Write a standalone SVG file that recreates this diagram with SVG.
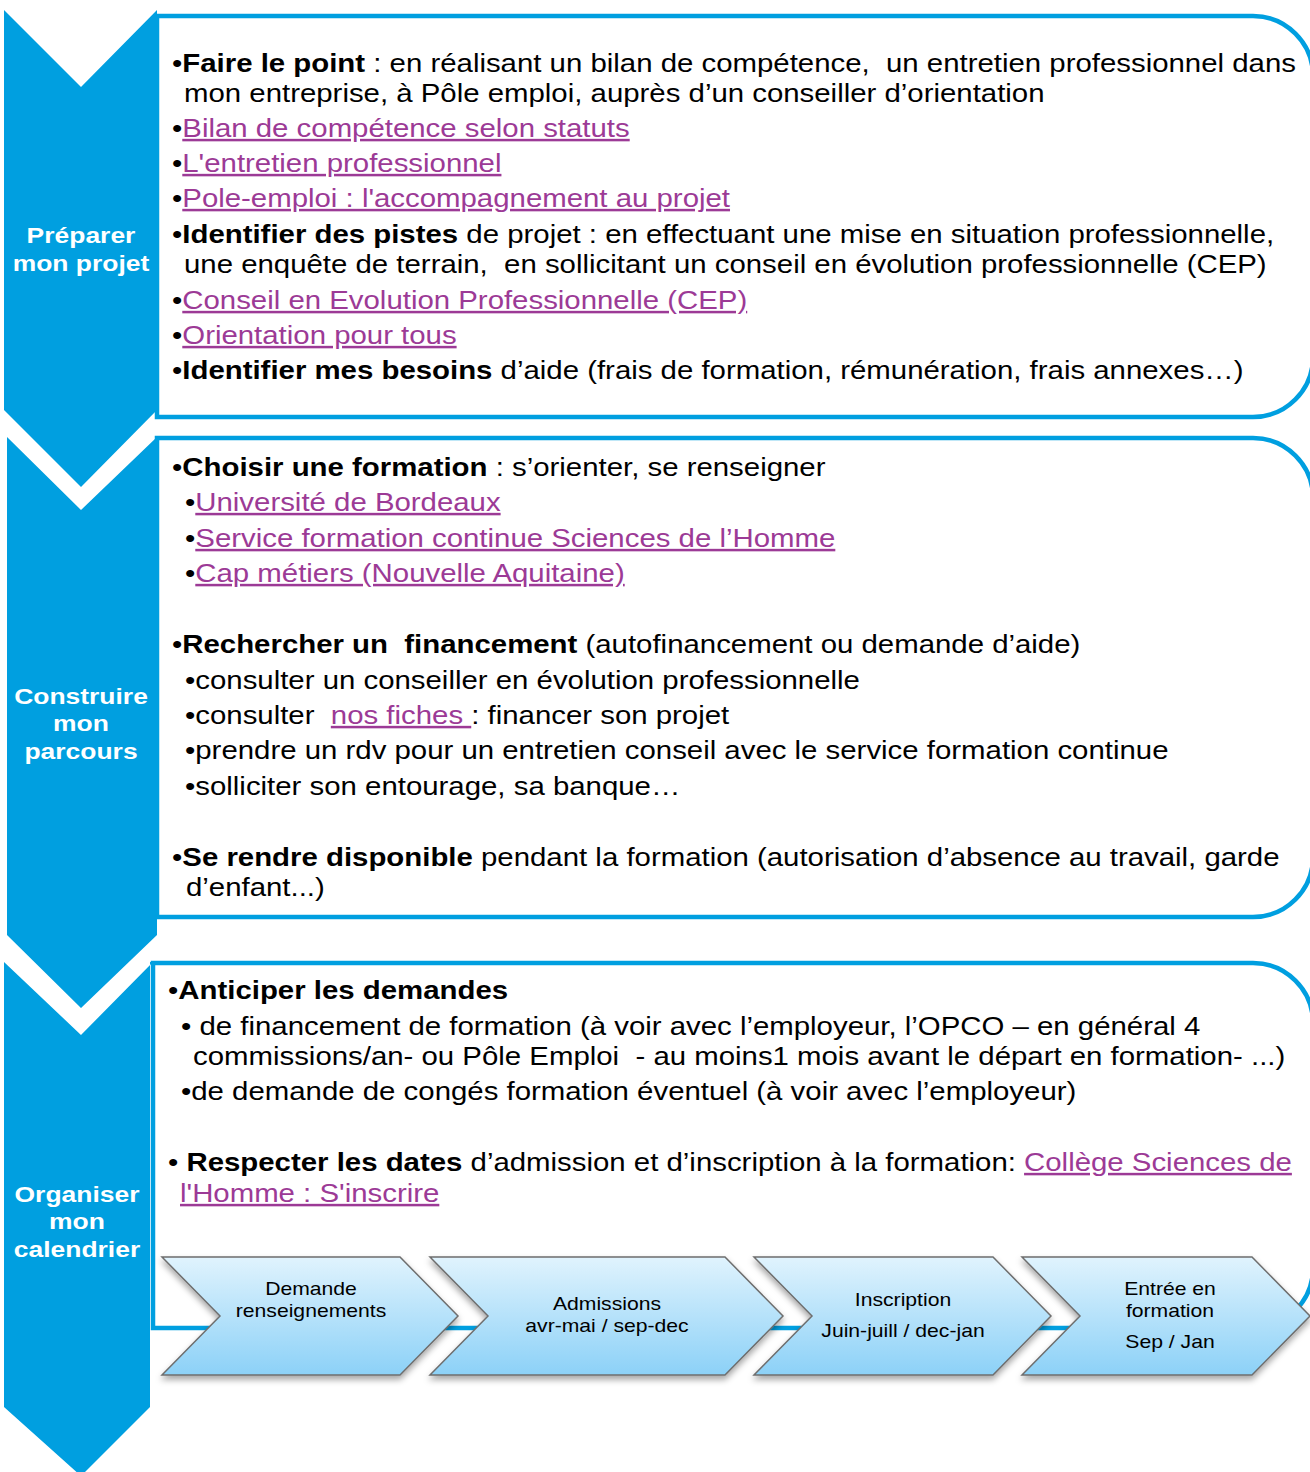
<svg xmlns="http://www.w3.org/2000/svg" width="1310" height="1472" viewBox="0 0 1310 1472">
<style>
.t{font-family:"Liberation Sans",Arial,sans-serif;font-size:25px;fill:#000;white-space:pre}
.b{font-weight:bold}
.lk{fill:#9C3A96;text-decoration:underline}
.lbl{font-family:"Liberation Sans",Arial,sans-serif;font-size:22.5px;font-weight:bold;fill:#fff;text-anchor:middle}
.pl{font-family:"Liberation Sans",Arial,sans-serif;font-size:18px;fill:#000;text-anchor:middle}
.box{fill:#fff;stroke:#009FE0;stroke-width:4.5}
.chev{fill:#009FE0}
.step{fill:url(#stepGrad);stroke:#6E6E6E;stroke-width:1.5;filter:url(#shadow)}
</style>
<defs>
<linearGradient id="stepGrad" x1="0" y1="0" x2="0" y2="1">
<stop offset="0" stop-color="#E0F3FD"/>
<stop offset="1" stop-color="#8CD1F7"/>
</linearGradient>
<filter id="shadow" x="-5%" y="-10%" width="110%" height="130%">
<feDropShadow dx="0" dy="4" stdDeviation="3" flood-color="#000" flood-opacity="0.35"/>
</filter>
</defs>
<rect width="1310" height="1472" fill="#fff"/>

<!-- content boxes -->
<g id="box-preparer">
<path class="box" d="M157,16 H1253 A60,60 0 0 1 1313,76 V357 A60,60 0 0 1 1253,417 H157 Z"/>
<text class="t" transform="translate(172,72) scale(1.176,1)">•<tspan class="b">Faire le point</tspan> : en réalisant un bilan de compétence,  un entretien professionnel dans</text>
<text class="t" transform="translate(184,102) scale(1.176,1)">mon entreprise, à Pôle emploi, auprès d’un conseiller d’orientation</text>
<text class="t" transform="translate(172,137) scale(1.176,1)">•<tspan class="lk">Bilan de compétence selon statuts</tspan></text>
<text class="t" transform="translate(172,172) scale(1.176,1)">•<tspan class="lk">L'entretien professionnel</tspan></text>
<text class="t" transform="translate(172,207) scale(1.176,1)">•<tspan class="lk">Pole-emploi : l'accompagnement au projet</tspan></text>
<text class="t" transform="translate(172,243) scale(1.176,1)">•<tspan class="b">Identifier des pistes</tspan> de projet : en effectuant une mise en situation professionnelle,</text>
<text class="t" transform="translate(184,273) scale(1.176,1)">une enquête de terrain,  en sollicitant un conseil en évolution professionnelle (CEP)</text>
<text class="t" transform="translate(172,309) scale(1.176,1)">•<tspan class="lk">Conseil en Evolution Professionnelle (CEP)</tspan></text>
<text class="t" transform="translate(172,344) scale(1.176,1)">•<tspan class="lk">Orientation pour tous</tspan></text>
<text class="t" transform="translate(172,379) scale(1.176,1)">•<tspan class="b">Identifier mes besoins</tspan> d’aide (frais de formation, rémunération, frais annexes…)</text>
</g>

<g id="box-construire">
<path class="box" d="M157,438 H1253 A60,60 0 0 1 1313,498 V857 A60,60 0 0 1 1253,917 H157 Z"/>
<text class="t" transform="translate(172,476) scale(1.176,1)">•<tspan class="b">Choisir une formation</tspan> : s’orienter, se renseigner</text>
<text class="t" transform="translate(185,511) scale(1.176,1)">•<tspan class="lk">Université de Bordeaux</tspan></text>
<text class="t" transform="translate(185,547) scale(1.176,1)">•<tspan class="lk">Service formation continue Sciences de l’Homme</tspan></text>
<text class="t" transform="translate(185,582) scale(1.176,1)">•<tspan class="lk">Cap métiers (Nouvelle Aquitaine)</tspan></text>
<text class="t" transform="translate(172,653) scale(1.176,1)">•<tspan class="b">Rechercher un  financement</tspan> (autofinancement ou demande d’aide)</text>
<text class="t" transform="translate(185,689) scale(1.176,1)">•consulter un conseiller en évolution professionnelle</text>
<text class="t" transform="translate(185,724) scale(1.176,1)">•consulter  <tspan class="lk">nos fiches </tspan>: financer son projet</text>
<text class="t" transform="translate(185,759) scale(1.176,1)">•prendre un rdv pour un entretien conseil avec le service formation continue</text>
<text class="t" transform="translate(185,795) scale(1.176,1)">•solliciter son entourage, sa banque…</text>
<text class="t" transform="translate(172,866) scale(1.176,1)">•<tspan class="b">Se rendre disponible</tspan> pendant la formation (autorisation d’absence au travail, garde</text>
<text class="t" transform="translate(186,896) scale(1.176,1)">d’enfant...)</text>
</g>

<g id="box-organiser">
<path class="box" d="M153,963 H1253 A60,60 0 0 1 1313,1023 V1268 A60,60 0 0 1 1253,1328 H153 Z"/>
<text class="t" transform="translate(168,999) scale(1.176,1)">•<tspan class="b">Anticiper les demandes</tspan></text>
<text class="t" transform="translate(181,1035) scale(1.176,1)">• de financement de formation (à voir avec l’employeur, l’OPCO – en général 4</text>
<text class="t" transform="translate(193,1065) scale(1.176,1)">commissions/an- ou Pôle Emploi  - au moins1 mois avant le départ en formation- ...)</text>
<text class="t" transform="translate(181,1100) scale(1.176,1)">•de demande de congés formation éventuel (à voir avec l’employeur)</text>
<text class="t" transform="translate(168,1171) scale(1.176,1)">• <tspan class="b">Respecter les dates</tspan> d’admission et d’inscription à la formation: <tspan class="lk">Collège Sciences de</tspan></text>
<text class="t" transform="translate(180,1202) scale(1.176,1)"><tspan class="lk">l'Homme : S'inscrire</tspan></text>
</g>

<!-- stage chevrons -->
<g id="stage-preparer">
<polygon class="chev" points="4,10 81,87 157,10 157,410 81,487 4,410"/>
<text class="lbl" transform="translate(81,243) scale(1.176,1)">Préparer</text>
<text class="lbl" transform="translate(81,271) scale(1.176,1)">mon projet</text>
</g>
<g id="stage-construire">
<polygon class="chev" points="7,437 81,510 157,437 157,935 81,1008 7,935"/>
<text class="lbl" transform="translate(81,704) scale(1.176,1)">Construire</text>
<text class="lbl" transform="translate(81,731) scale(1.176,1)">mon</text>
<text class="lbl" transform="translate(81,759) scale(1.176,1)">parcours</text>
</g>
<g id="stage-organiser">
<polygon class="chev" points="4,962 81,1035 153,962 150,962 150,1407 81,1476 4,1407"/>
<text class="lbl" transform="translate(77,1202) scale(1.176,1)">Organiser</text>
<text class="lbl" transform="translate(77,1229) scale(1.176,1)">mon</text>
<text class="lbl" transform="translate(77,1257) scale(1.176,1)">calendrier</text>
</g>

<!-- process steps -->
<g id="step-demande">
<polygon class="step" points="162,1257 400,1257 458,1316 400,1375 162,1375 220,1316"/>
<text class="pl" transform="translate(311,1295) scale(1.176,1)">Demande</text>
<text class="pl" transform="translate(311,1317) scale(1.176,1)">renseignements</text>
</g>
<g id="step-admissions">
<polygon class="step" points="430,1257 725,1257 783,1316 725,1375 430,1375 488,1316"/>
<text class="pl" transform="translate(607,1310) scale(1.176,1)">Admissions</text>
<text class="pl" transform="translate(607,1332) scale(1.176,1)">avr-mai / sep-dec</text>
</g>
<g id="step-inscription">
<polygon class="step" points="754,1257 993,1257 1051,1316 993,1375 754,1375 812,1316"/>
<text class="pl" transform="translate(903,1306) scale(1.176,1)">Inscription</text>
<text class="pl" transform="translate(903,1337) scale(1.176,1)">Juin-juill / dec-jan</text>
</g>
<g id="step-entree">
<polygon class="step" points="1022,1257 1252,1257 1310,1316 1252,1375 1022,1375 1080,1316"/>
<text class="pl" transform="translate(1170,1295) scale(1.176,1)">Entrée en</text>
<text class="pl" transform="translate(1170,1317) scale(1.176,1)">formation</text>
<text class="pl" transform="translate(1170,1348) scale(1.176,1)">Sep / Jan</text>
</g>
<g id="connectors"></g>
</svg>
